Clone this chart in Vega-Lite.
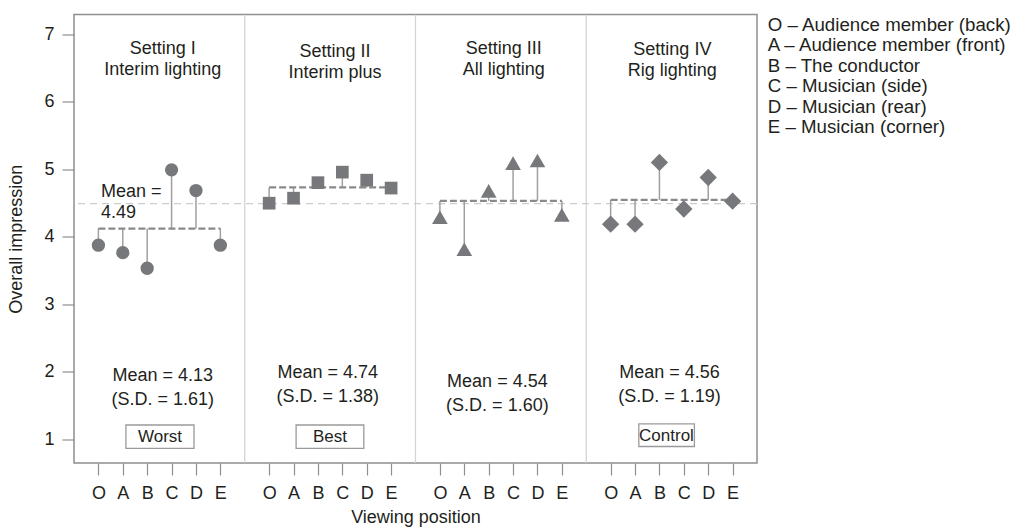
{
  "$schema": "https://vega.github.io/schema/vega-lite/v6.json",
  "width": 683,
  "height": 448.5,
  "autosize": {"type": "none"},
  "padding": {"left": 74, "top": 14.5, "right": 257, "bottom": 64},
  "background": "white",
  "config": {
    "font": "Liberation Sans",
    "view": {"stroke": "#8f8f8f", "strokeWidth": 1.5},
    "axis": {
      "domain": false, "grid": false, "tickColor": "#8f8f8f", "tickWidth": 1.2, "tickSize": 12,
      "labelFont": "Liberation Sans", "labelFontSize": 18, "labelColor": "#231f20",
      "titleFont": "Liberation Sans", "titleFontSize": 18, "titleFontWeight": "normal", "titleColor": "#231f20"
    },
    "text": {"font": "Liberation Sans", "fontSize": 18, "color": "#231f20"}
  },
  "datasets": {
    "pts": [
      {"setting": "I", "pos": "O", "x": 0, "value": 3.874, "mean": 4.12},
      {"setting": "I", "pos": "A", "x": 1, "value": 3.764, "mean": 4.12},
      {"setting": "I", "pos": "B", "x": 2, "value": 3.533, "mean": 4.12},
      {"setting": "I", "pos": "C", "x": 3, "value": 4.99, "mean": 4.12},
      {"setting": "I", "pos": "D", "x": 4, "value": 4.683, "mean": 4.12},
      {"setting": "I", "pos": "E", "x": 5, "value": 3.874, "mean": 4.12},
      {"setting": "II", "pos": "O", "x": 7, "value": 4.496, "mean": 4.73},
      {"setting": "II", "pos": "A", "x": 8, "value": 4.57, "mean": 4.73},
      {"setting": "II", "pos": "B", "x": 9, "value": 4.8, "mean": 4.73},
      {"setting": "II", "pos": "C", "x": 10, "value": 4.956, "mean": 4.73},
      {"setting": "II", "pos": "D", "x": 11, "value": 4.837, "mean": 4.73},
      {"setting": "II", "pos": "E", "x": 12, "value": 4.72, "mean": 4.73},
      {"setting": "III", "pos": "O", "x": 14, "value": 4.289, "mean": 4.53},
      {"setting": "III", "pos": "A", "x": 15, "value": 3.815, "mean": 4.53},
      {"setting": "III", "pos": "B", "x": 16, "value": 4.678, "mean": 4.53},
      {"setting": "III", "pos": "C", "x": 17, "value": 5.089, "mean": 4.53},
      {"setting": "III", "pos": "D", "x": 18, "value": 5.127, "mean": 4.53},
      {"setting": "III", "pos": "E", "x": 19, "value": 4.323, "mean": 4.53},
      {"setting": "IV", "pos": "O", "x": 21, "value": 4.185, "mean": 4.545},
      {"setting": "IV", "pos": "A", "x": 22, "value": 4.185, "mean": 4.545},
      {"setting": "IV", "pos": "B", "x": 23, "value": 5.1, "mean": 4.545},
      {"setting": "IV", "pos": "C", "x": 24, "value": 4.41, "mean": 4.545},
      {"setting": "IV", "pos": "D", "x": 25, "value": 4.876, "mean": 4.545},
      {"setting": "IV", "pos": "E", "x": 26, "value": 4.526, "mean": 4.545}
    ],
    "panels": [
      {"setting": "I", "title": "Setting I\nInterim lighting", "tx": 2.636, "ty": 6.704, "stat": "Mean = 4.13\n(S.D. = 1.61)", "mx": 2.636, "my": 1.864},
      {"setting": "II", "title": "Setting II\nInterim plus", "tx": 9.7, "ty": 6.668, "stat": "Mean = 4.74\n(S.D. = 1.38)", "mx": 9.405, "my": 1.908},
      {"setting": "III", "title": "Setting III\nAll lighting", "tx": 16.62, "ty": 6.704, "stat": "Mean = 4.54\n(S.D. = 1.60)", "mx": 16.357, "my": 1.767},
      {"setting": "IV", "title": "Setting IV\nRig lighting", "tx": 23.53, "ty": 6.689, "stat": "Mean = 4.56\n(S.D. = 1.19)", "mx": 23.41, "my": 1.908}
    ],
    "boxes": [
      {"label": "Worst", "x1": 1.128, "x2": 3.919, "y1": 0.867, "y2": 1.212, "cx": 2.526, "cy": 0.964},
      {"label": "Best", "x1": 8.105, "x2": 10.881, "y1": 0.867, "y2": 1.212, "cx": 9.495, "cy": 0.964},
      {"label": "Control", "x1": 22.155, "x2": 24.434, "y1": 0.893, "y2": 1.227, "cx": 23.29, "cy": 0.979}
    ],
    "seps": [{"sep": 6}, {"sep": 13}, {"sep": 20}],
    "overall": [{"label": "Mean =\n4.49", "level": 4.49, "lx": 0.107, "ly": 4.594}],
    "legend": [
      {"label": "O – Audience member (back)", "ly": 7.049},
      {"label": "A – Audience member (front)", "ly": 6.745},
      {"label": "B – The conductor", "ly": 6.442},
      {"label": "C – Musician (side)", "ly": 6.139},
      {"label": "D – Musician (rear)", "ly": 5.835},
      {"label": "E – Musician (corner)", "ly": 5.532}
    ]
  },
  "layer": [
    {
      "data": {"name": "seps"},
      "mark": {"type": "rule", "color": "#d2d2d2", "strokeWidth": 1.2},
      "encoding": {
        "x": {"field": "sep", "type": "quantitative", "scale": {"domain": [-1, 27], "nice": false, "zero": false},
          "axis": {"title": "Viewing position", "values": [0,1,2,3,4,5,7,8,9,10,11,12,14,15,16,17,18,19,21,22,23,24,25,26],
            "tickCount": 40, "labelExpr": "['O','A','B','C','D','E'][datum.value % 7]", "labelPadding": 9, "titlePadding": 6, "labelFlush": false, "labelOverlap": false}}
      }
    },
    {
      "data": {"name": "overall"},
      "mark": {"type": "rule", "color": "#cccccc", "strokeWidth": 1.2, "strokeDash": [7, 5]},
      "encoding": {
        "y": {"field": "level", "type": "quantitative", "scale": {"domain": [0.649, 7.29], "nice": false, "zero": false},
          "axis": {"title": "Overall impression", "values": [1,2,3,4,5,6,7], "tickCount": 20, "format": "d", "labelPadding": 8, "titlePadding": 18, "labelFlush": false}}
      }
    },
    {
      "data": {"name": "pts"},
      "mark": {"type": "rule", "color": "#a0a0a3", "strokeWidth": 1.5},
      "encoding": {
        "x": {"field": "x", "type": "quantitative"},
        "y": {"field": "value", "type": "quantitative"},
        "y2": {"field": "mean"}
      }
    },
    {
      "data": {"name": "pts"},
      "mark": {"type": "line", "color": "#8a8a8d", "strokeWidth": 2.2, "strokeDash": [7, 3]},
      "encoding": {
        "x": {"field": "x", "type": "quantitative"},
        "y": {"field": "mean", "type": "quantitative"},
        "detail": {"field": "setting"}
      }
    },
    {
      "data": {"name": "pts"},
      "transform": [{"filter": "datum.setting == 'I'"}],
      "mark": {"type": "point", "shape": "circle", "size": 177, "filled": true, "opacity": 1, "color": "#77787b", "strokeWidth": 0},
      "encoding": {
        "x": {"field": "x", "type": "quantitative"},
        "y": {"field": "value", "type": "quantitative"}
      }
    },
    {
      "data": {"name": "pts"},
      "transform": [{"filter": "datum.setting == 'II'"}],
      "mark": {"type": "point", "shape": "square", "size": 161, "filled": true, "opacity": 1, "color": "#77787b", "strokeWidth": 0},
      "encoding": {
        "x": {"field": "x", "type": "quantitative"},
        "y": {"field": "value", "type": "quantitative"}
      }
    },
    {
      "data": {"name": "pts"},
      "transform": [{"filter": "datum.setting == 'III'"}],
      "mark": {"type": "point", "shape": "triangle-up", "size": 245, "filled": true, "opacity": 1, "color": "#77787b", "strokeWidth": 0},
      "encoding": {
        "x": {"field": "x", "type": "quantitative"},
        "y": {"field": "value", "type": "quantitative"}
      }
    },
    {
      "data": {"name": "pts"},
      "transform": [{"filter": "datum.setting == 'IV'"}],
      "mark": {"type": "point", "shape": "diamond", "size": 300, "filled": true, "opacity": 1, "color": "#77787b", "strokeWidth": 0},
      "encoding": {
        "x": {"field": "x", "type": "quantitative"},
        "y": {"field": "value", "type": "quantitative"}
      }
    },
    {
      "data": {"name": "boxes"},
      "mark": {"type": "rect", "fill": "white", "stroke": "#9a9a9a", "strokeWidth": 1.3},
      "encoding": {
        "x": {"field": "x1", "type": "quantitative"},
        "x2": {"field": "x2"},
        "y": {"field": "y1", "type": "quantitative"},
        "y2": {"field": "y2"}
      }
    },
    {
      "data": {"name": "boxes"},
      "mark": {"type": "text", "align": "center", "baseline": "alphabetic", "fontSize": 17},
      "encoding": {
        "x": {"field": "cx", "type": "quantitative"},
        "y": {"field": "cy", "type": "quantitative"},
        "text": {"field": "label"}
      }
    },
    {
      "data": {"name": "panels"},
      "mark": {"type": "text", "align": "center", "baseline": "alphabetic", "lineBreak": "\n", "lineHeight": 21.4},
      "encoding": {
        "x": {"field": "tx", "type": "quantitative"},
        "y": {"field": "ty", "type": "quantitative"},
        "text": {"field": "title"}
      }
    },
    {
      "data": {"name": "panels"},
      "mark": {"type": "text", "align": "center", "baseline": "alphabetic", "lineBreak": "\n", "lineHeight": 24},
      "encoding": {
        "x": {"field": "mx", "type": "quantitative"},
        "y": {"field": "my", "type": "quantitative"},
        "text": {"field": "stat"}
      }
    },
    {
      "data": {"name": "overall"},
      "mark": {"type": "text", "align": "left", "baseline": "alphabetic", "lineBreak": "\n", "lineHeight": 21.6},
      "encoding": {
        "x": {"field": "lx", "type": "quantitative"},
        "y": {"field": "ly", "type": "quantitative"},
        "text": {"field": "label"}
      }
    },
    {
      "data": {"name": "legend"},
      "mark": {"type": "text", "align": "left", "baseline": "alphabetic", "fontSize": 18.7, "clip": false},
      "encoding": {
        "x": {"datum": 27.44, "type": "quantitative"},
        "y": {"field": "ly", "type": "quantitative"},
        "text": {"field": "label"}
      }
    }
  ]
}
